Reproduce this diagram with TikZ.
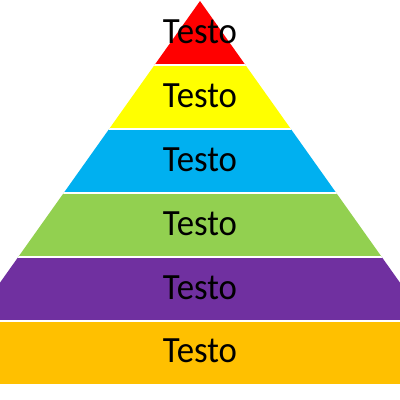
\documentclass[tikz,border=0pt]{standalone}
\usepackage{fontspec}
\setmainfont{Carlito}
\newfontfamily\lblfont[FakeStretch=0.94]{Carlito}
\definecolor{cRed}{HTML}{FF0000}
\definecolor{cYellow}{HTML}{FFFF00}
\definecolor{cBlue}{HTML}{00B0F0}
\definecolor{cGreen}{HTML}{92D050}
\definecolor{cPurple}{HTML}{7030A0}
\definecolor{cOrange}{HTML}{FFC000}
\begin{document}
\begin{tikzpicture}[x=1pt,y=-1pt,
  lbl/.style={font=\lblfont\fontsize{37}{42}\selectfont, anchor=base, inner sep=0pt, text=black},
  gapline/.style={draw=white, line width=1.6pt}]
\fill[white] (0,0) rectangle (400,400);
\useasboundingbox (0,0) rectangle (400,400);
\begin{scope}
  \clip (0,0) rectangle (400,400);
  \clip (200,1) -- (-83.3,400) -- (483.3,400) -- cycle;
  \fill[cRed] (0,0) rectangle (400,65);
  \fill[cYellow] (0,65) rectangle (400,129);
  \fill[cBlue] (0,129) rectangle (400,193);
  \fill[cGreen] (0,193) rectangle (400,257);
  \fill[cPurple] (0,257) rectangle (400,321);
  \fill[cOrange] (0,321) rectangle (400,385);
  \foreach \yy in {65,129,193,257,321,385} {
    \draw[gapline] (-10,\yy) -- (410,\yy);
  }
\end{scope}
\node[lbl] (t1) at (200,43) {Testo};
\node[lbl] (t2) at (200,107) {Testo};
\node[lbl] (t3) at (200,171) {Testo};
\node[lbl] (t4) at (200,235.5) {Testo};
\node[lbl] (t5) at (200,299) {Testo};
\node[lbl] (t6) at (200,362.5) {Testo};
\end{tikzpicture}
\end{document}
